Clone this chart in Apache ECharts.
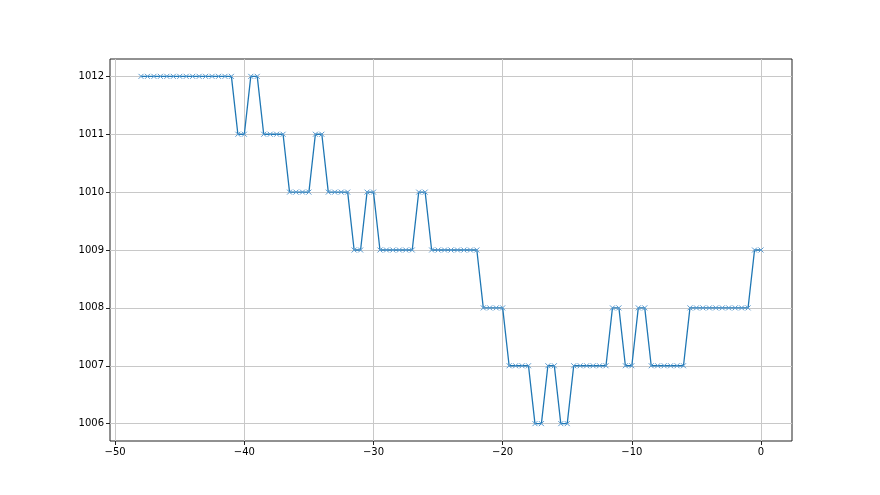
<!DOCTYPE html>
<html>
<head>
<meta charset="utf-8">
<script src="https://cdn.jsdelivr.net/npm/echarts@6/dist/echarts.min.js"></script>
<style>
html, body { margin: 0; padding: 0; background: #fff; }
#chart { width: 880px; height: 495px; }
</style>
</head>
<body>
<div id="chart"></div>
<script>
// hours back (step 0.5) and pressure readings
const xStart = -48
const xStep = 0.5
const pressure = [
  1012, 1012, 1012, 1012, 1012, 1012, 1012, 1012, 1012, 1012, 1012, 1012, 1012, 1012, 1012,
  1011, 1011, 1012, 1012, 1011, 1011, 1011, 1011,
  1010, 1010, 1010, 1010, 1011, 1011, 1010, 1010, 1010, 1010,
  1009, 1009, 1010, 1010,
  1009, 1009, 1009, 1009, 1009, 1009, 1010, 1010,
  1009, 1009, 1009, 1009, 1009, 1009, 1009, 1009,
  1008, 1008, 1008, 1008, 1007, 1007, 1007, 1007,
  1006, 1006, 1007, 1007, 1006, 1006,
  1007, 1007, 1007, 1007, 1007, 1007, 1008, 1008, 1007, 1007, 1008, 1008,
  1007, 1007, 1007, 1007, 1007, 1007,
  1008, 1008, 1008, 1008, 1008, 1008, 1008, 1008, 1008, 1008,
  1009, 1009
]
const xTicks = [-50, -40, -30, -20, -10, 0]
const yTicks = [1006, 1007, 1008, 1009, 1010, 1011, 1012]

const points = pressure.map(function (v, i) {
  return [xStart + i * xStep, v]
})

const chart = echarts.init(document.getElementById('chart'))
chart.setOption({
  backgroundColor: '#fff',
  animation: false,
  grid: {
    left: 110,
    right: 88,
    top: 59,
    bottom: 54,
    show: true,
    backgroundColor: '#fff',
    borderColor: '#222',
    borderWidth: 1
  },
  xAxis: {
    type: 'value',
    min: -50.4,
    max: 2.4,
    axisLine: { show: false, onZero: false },
    axisTick: {
      show: true,
      length: 4,
      customValues: xTicks,
      lineStyle: { color: '#222', width: 1 }
    },
    axisLabel: {
      customValues: xTicks,
      color: '#000',
      fontFamily: 'DejaVu Sans',
      fontSize: 10,
      margin: 6,
      formatter: function (v) {
        return String(v).replace('-', '\u2212')
      }
    },
    splitLine: {
      show: true,
      lineStyle: { color: '#c8c8c8', width: 1 }
    }
  },
  yAxis: {
    type: 'value',
    min: 1005.7,
    max: 1012.3,
    axisLine: { show: false, onZero: false },
    axisTick: {
      show: true,
      length: 4,
      customValues: yTicks,
      lineStyle: { color: '#222', width: 1 }
    },
    axisLabel: {
      customValues: yTicks,
      color: '#000',
      fontFamily: 'DejaVu Sans',
      fontSize: 10,
      margin: 6,
      formatter: function (v) {
        return String(v)
      }
    },
    splitLine: {
      show: true,
      lineStyle: { color: '#c8c8c8', width: 1 }
    }
  },
  series: [
    {
      type: 'line',
      data: points,
      symbol: 'path://M0,0L10,10M10,0L0,10',
      symbolSize: 5,
      showAllSymbol: true,
      lineStyle: { color: '#1f77b4', width: 1.3 },
      itemStyle: {
        color: 'rgba(0,0,0,0)',
        borderColor: '#5a9bd0',
        borderWidth: 1
      }
    }
  ]
})
</script>
</body>
</html>
